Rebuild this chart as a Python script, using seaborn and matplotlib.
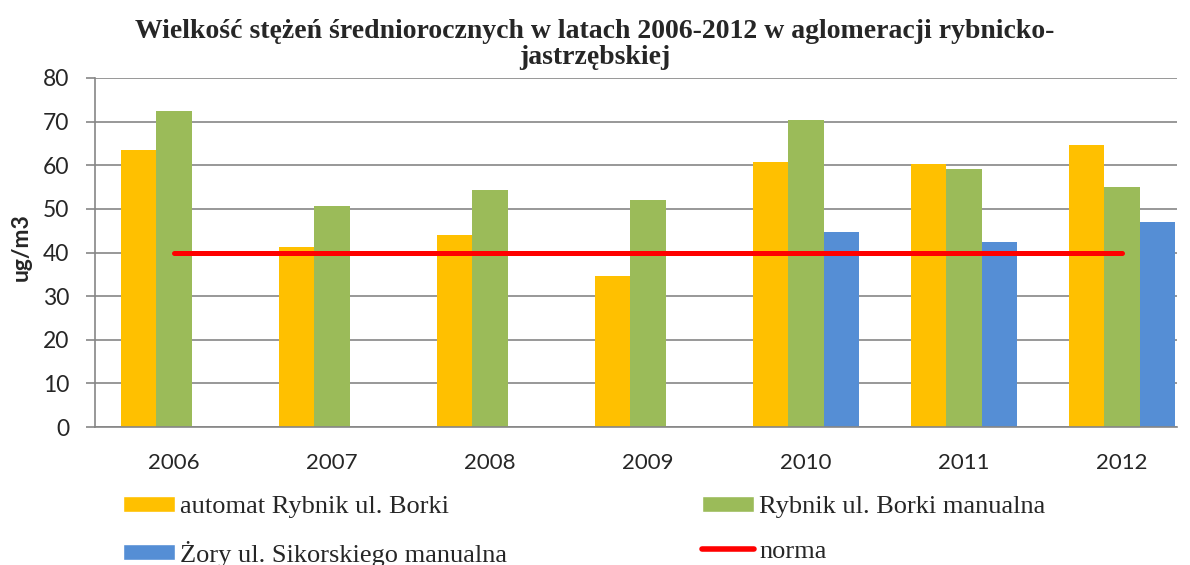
import numpy as np
import pandas as pd
import matplotlib
matplotlib.use("Agg")
import matplotlib.pyplot as plt
from matplotlib.patches import Patch
from matplotlib.lines import Line2D
import seaborn as sns

# Chart data
YEARS = ["2006", "2007", "2008", "2009", "2010", "2011", "2012"]
AUTOMAT_BORKI = [63.5, 41.2, 43.9, 34.7, 60.8, 60.3, 64.7]
BORKI_MANUAL = [72.4, 50.7, 54.4, 52.1, 70.4, 59.2, 55.1]
ZORY_MANUAL = [np.nan, np.nan, np.nan, np.nan, 44.8, 42.5, 47.1]
NORMA = [40, 40, 40, 40, 40, 40, 40]

SERIES = ["automat Rybnik ul. Borki", "Rybnik ul. Borki manualna",
          "Żory ul. Sikorskiego manualna"]
COLORS = ["#FFC000", "#9BBB59", "#558ED5"]
NORMA_LABEL = "norma"
NORMA_COLOR = "#FF0000"

TITLE = "Wielkość stężeń średniorocznych w latach 2006-2012 w aglomeracji rybnicko-\njastrzębskiej"
YLABEL = "ug/m3"

GRID_COLOR = "#868686"
SERIF = ["Liberation Serif", "DejaVu Serif"]

# Long-form table for seaborn
frames = []
for name, vals in zip(SERIES, [AUTOMAT_BORKI, BORKI_MANUAL, ZORY_MANUAL]):
    frames.append(pd.DataFrame({"rok": YEARS, "seria": name, "wartosc": vals}))
df = pd.concat(frames, ignore_index=True)

sns.set_style("white")
plt.rcParams["font.family"] = ["Lato", "DejaVu Sans"]

fig = plt.figure(figsize=(11.9, 5.65), dpi=100)
# plot area: x 95..1177 px, y 78..427 px
ax = fig.add_axes([95 / 1190, 1 - 427 / 565, (1177 - 95) / 1190, (427 - 78) / 565])

sns.barplot(data=df, x="rok", y="wartosc", hue="seria", order=YEARS,
            hue_order=SERIES, palette=COLORS, saturation=1, width=0.665,
            linewidth=0, errorbar=None, legend=False, ax=ax, zorder=2)

# Limit line drawn across category positions
pos = np.arange(len(YEARS))
sns.lineplot(x=pos, y=NORMA, color=NORMA_COLOR, linewidth=3.6, ax=ax,
             solid_capstyle="round", zorder=3)

# category width ~158 px, the last category runs past the visible area
ax.set_xlim(-0.5, -0.5 + (1177 - 95) / 158)
ax.set_ylim(0, 80)
ax.set_yticks(np.arange(0, 81, 10))
ax.set_xticks(pos)
ax.set_xticklabels(YEARS)
ax.set_xticks(np.arange(-0.5, len(YEARS) - 1, 1.0), minor=True)
ax.tick_params(axis="x", which="major", length=0, labelsize=16, pad=19)
ax.tick_params(axis="x", which="minor", length=6, width=1.2, color=GRID_COLOR,
               direction="out")
ax.tick_params(axis="y", which="major", length=6.5, width=1.2, color=GRID_COLOR,
               direction="out", labelsize=16.5, left=True, pad=12)
ax.yaxis.grid(True, color=GRID_COLOR, linewidth=1.2, zorder=0)
ax.set_axisbelow(True)

for s in ["top", "right"]:
    ax.spines[s].set_visible(False)
for s in ["left", "bottom"]:
    ax.spines[s].set_color(GRID_COLOR)
    ax.spines[s].set_linewidth(1.2)

ax.set_xlabel("")
ax.set_ylabel(YLABEL, fontsize=16.5, fontweight="bold")
ax.yaxis.set_label_coords(-0.058, 0.516)

fig.suptitle(TITLE, x=0.5, y=0.966, fontsize=20, fontweight="bold",
             family=SERIF, linespacing=1.02)

# Legend below the plot, two columns
handles = [Patch(facecolor=COLORS[0]), Patch(facecolor=COLORS[2]),
           Patch(facecolor=COLORS[1]),
           Line2D([0], [0], color=NORMA_COLOR, linewidth=4,
                  solid_capstyle="round")]
labels = [SERIES[0], SERIES[2], SERIES[1], NORMA_LABEL]
fig.legend(handles, labels, ncol=2, loc="upper left",
           bbox_to_anchor=(123 / 1190, 1 - 496 / 565), frameon=False,
           prop={"family": SERIF, "size": 19},
           handlelength=1.97, handleheight=0.55, handletextpad=0.2,
           columnspacing=7.37, labelspacing=0.85, borderaxespad=0,
           borderpad=0)

fig.savefig("out.png", dpi=100)
